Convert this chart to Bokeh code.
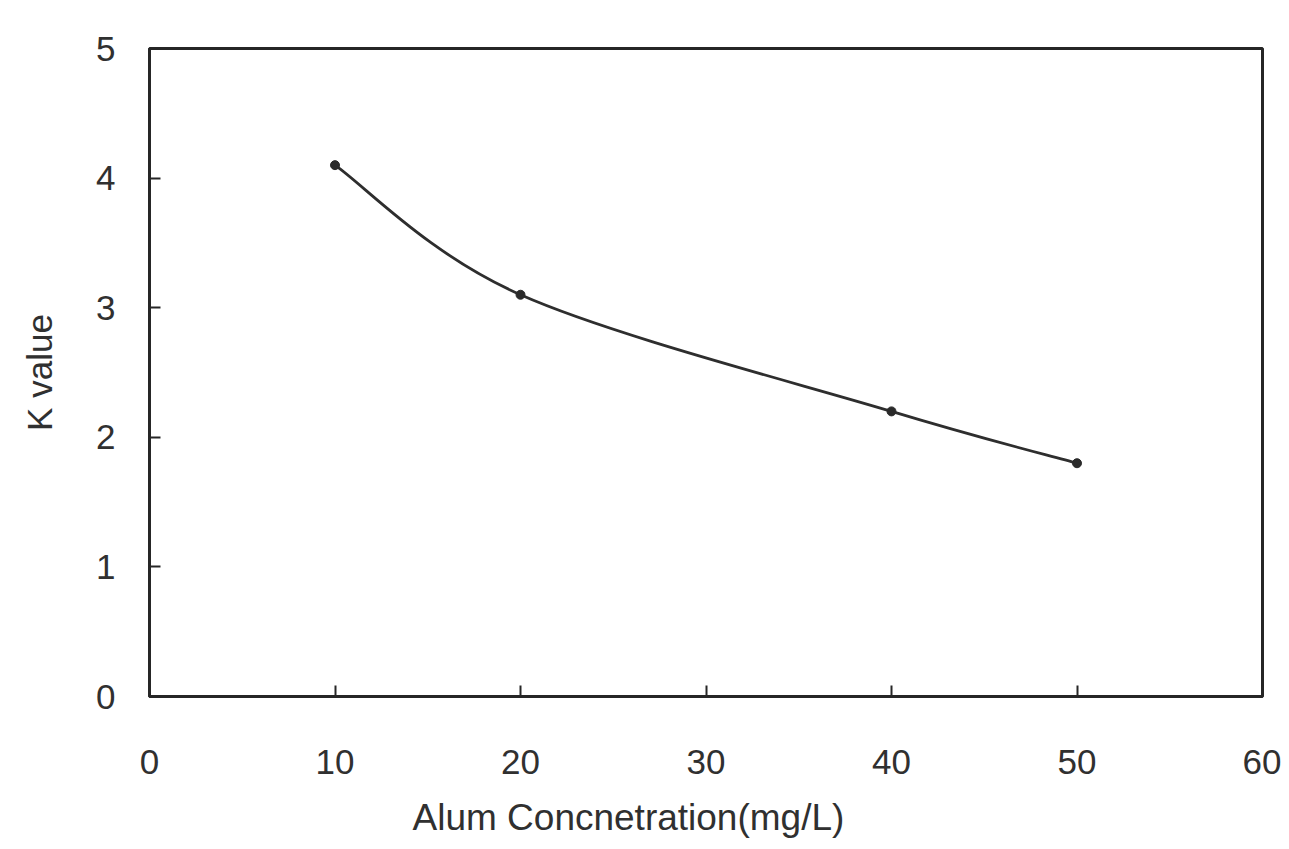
from bokeh.plotting import figure
from bokeh.models import Range1d, FixedTicker, Title
from bokeh.embed import file_html
from bokeh.resources import INLINE

# Data
alum_conc = [10, 20, 40, 50]
k_value = [4.1, 3.1, 2.2, 1.8]
x_ticks = [0, 10, 20, 30, 40, 50, 60]
y_ticks = [0, 1, 2, 3, 4, 5]
x_title = "Alum Concnetration(mg/L)"
y_title = "K value"

FONT = "Liberation Sans"
INK = "#262626"

p = figure(
    output_backend="svg", toolbar_location=None,
    frame_width=1113, frame_height=648,
    min_border_left=149, min_border_right=19,
    min_border_top=48, min_border_bottom=145,
    x_range=Range1d(0, 60), y_range=Range1d(0, 5),
    background_fill_color="white", border_fill_color="white",
)
p.grid.visible = False
p.outline_line_color = INK
p.outline_line_width = 3

for ax in (p.xaxis[0], p.yaxis[0]):
    ax.axis_line_color = INK
    ax.axis_line_width = 3
    ax.major_tick_in = 11
    ax.major_tick_out = 0
    ax.major_tick_line_color = INK
    ax.major_tick_line_width = 2
    ax.minor_tick_line_color = None
    ax.major_label_text_font = FONT
    ax.major_label_text_font_size = "35px"
    ax.major_label_text_color = "#303030"

p.xaxis.ticker = FixedTicker(ticks=x_ticks)
p.yaxis.ticker = FixedTicker(ticks=y_ticks)
p.xaxis.major_label_standoff = 53
p.yaxis.major_label_standoff = 34

p.yaxis.axis_label = y_title
p.yaxis.axis_label_text_font = FONT
p.yaxis.axis_label_text_font_size = "35px"
p.yaxis.axis_label_text_font_style = "normal"
p.yaxis.axis_label_text_color = "#303030"
p.yaxis.axis_label_standoff = 34

# x-axis title (shifted left as in the reference)
p.add_layout(Title(
    text=x_title, align="left", offset=263, standoff=37,
    text_font=FONT, text_font_size="37px", text_font_style="normal",
    text_color="#303030",
), "below")

# Smooth curve through the points (Catmull-Rom as cubic Bezier segments)
n = len(alum_conc)
x0s, y0s, x1s, y1s, cx0, cy0, cx1, cy1 = [], [], [], [], [], [], [], []
for i in range(n - 1):
    xa, ya = alum_conc[i], k_value[i]
    xb, yb = alum_conc[i + 1], k_value[i + 1]
    xp, yp = (alum_conc[i - 1], k_value[i - 1]) if i > 0 else (xa, ya)
    xn, yn = (alum_conc[i + 2], k_value[i + 2]) if i + 2 < n else (xb, yb)
    x0s.append(xa); y0s.append(ya); x1s.append(xb); y1s.append(yb)
    cx0.append(xa + (xb - xp) / 6); cy0.append(ya + (yb - yp) / 6)
    cx1.append(xb - (xn - xa) / 6); cy1.append(yb - (yn - ya) / 6)

p.bezier(x0=x0s, y0=y0s, x1=x1s, y1=y1s, cx0=cx0, cy0=cy0, cx1=cx1, cy1=cy1,
         line_color="#2e2e2e", line_width=2.8)
p.scatter(alum_conc, k_value, marker="circle", size=9,
          fill_color="#2a2a2a", line_color="#2a2a2a")

open("out.html", "w").write(file_html(p, INLINE))
